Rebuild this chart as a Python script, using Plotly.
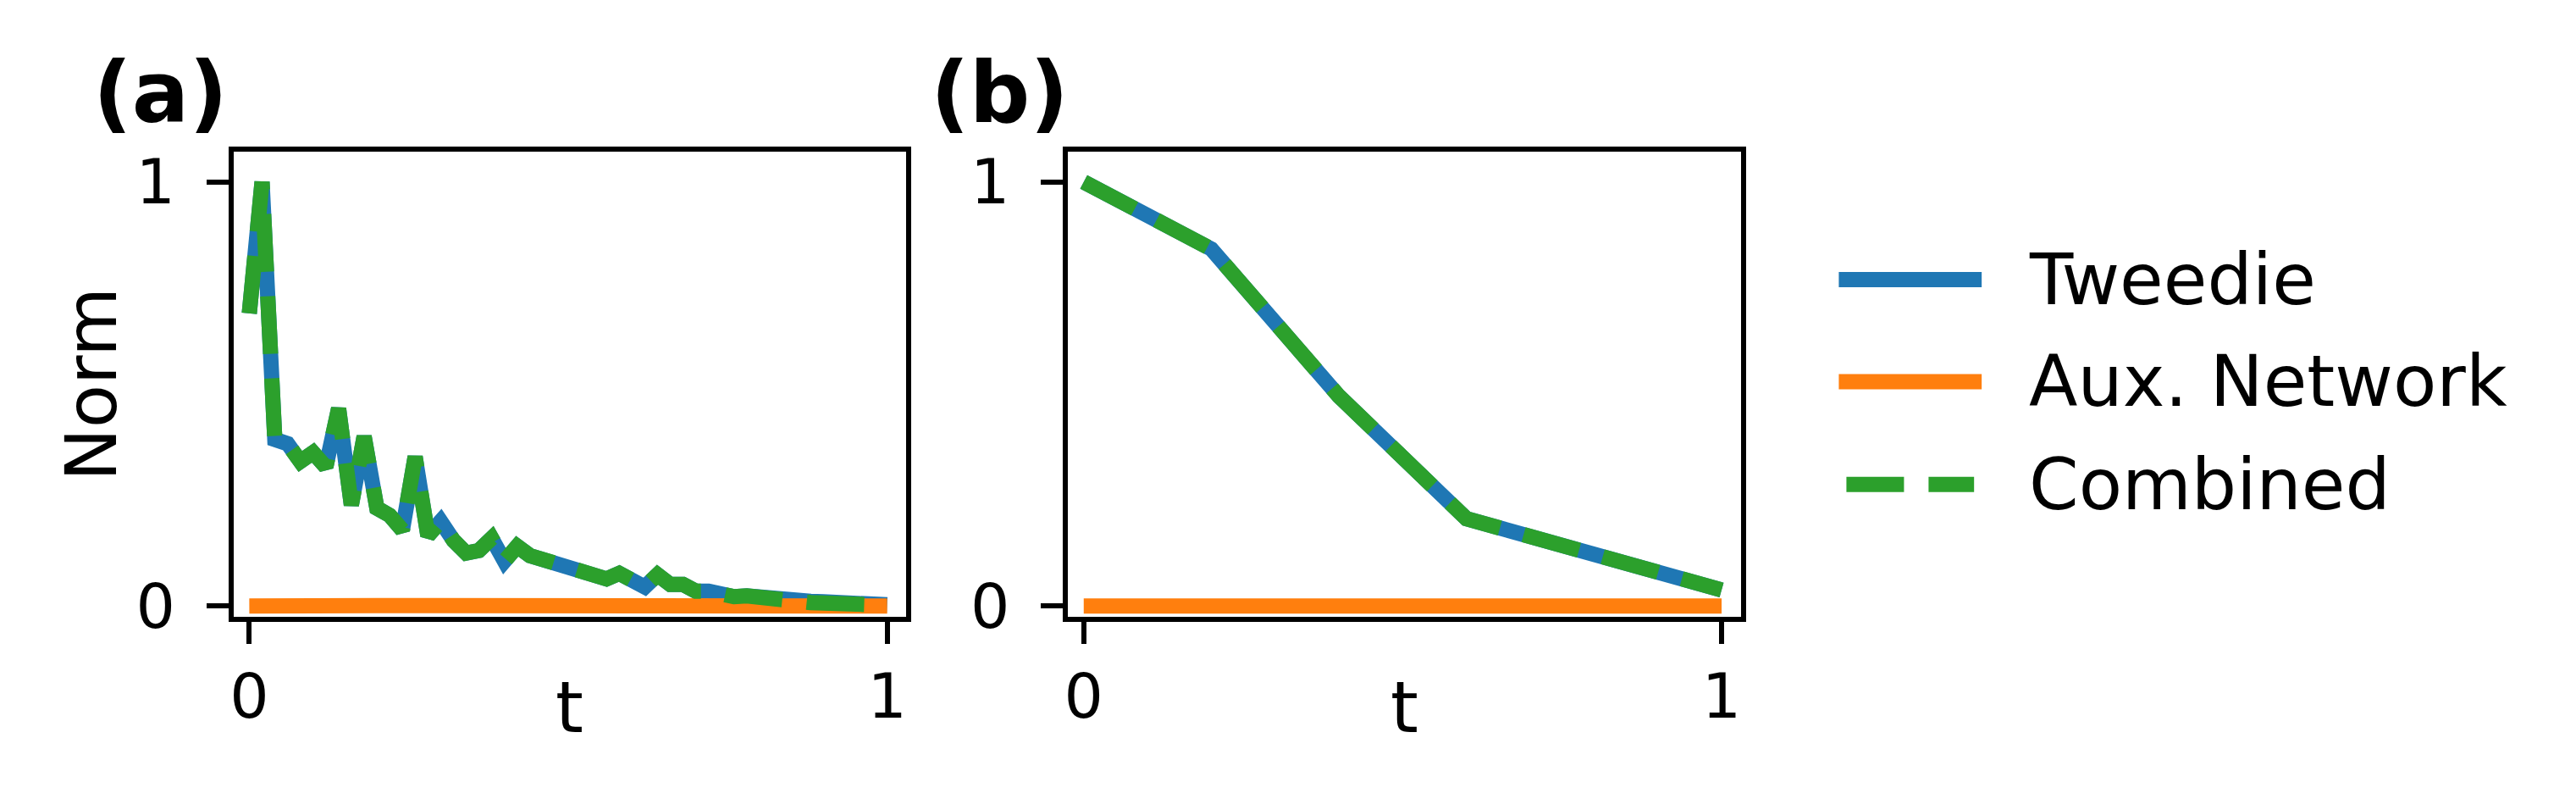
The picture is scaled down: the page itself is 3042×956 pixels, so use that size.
import plotly.graph_objects as go

# --- data ---
# panel (a): 51 steps
t_a = [0.00, 0.02, 0.04, 0.06, 0.08, 0.10, 0.12, 0.14, 0.16, 0.18,
       0.20, 0.22, 0.24, 0.26, 0.28, 0.30, 0.32, 0.34, 0.36, 0.38,
       0.40, 0.42, 0.44, 0.46, 0.48, 0.50, 0.52, 0.54, 0.56, 0.58,
       0.60, 0.62, 0.64, 0.66, 0.68, 0.70, 0.72, 0.74, 0.76, 0.78,
       0.80, 0.82, 0.84, 0.86, 0.88, 0.90, 0.92, 0.94, 0.96, 0.98, 1.00]
tweedie_a = [0.690, 1.000, 0.393, 0.383, 0.341, 0.362, 0.328, 0.466, 0.238, 0.400,
             0.231, 0.214, 0.179, 0.352, 0.166, 0.200, 0.155, 0.125, 0.131, 0.160,
             0.106, 0.141, 0.119, 0.109, 0.103, 0.093, 0.077, 0.067, 0.064, 0.077,
             0.058, 0.045, 0.074, 0.051, 0.051, 0.035, 0.035, 0.026, 0.022, 0.024,
             0.020, 0.016, 0.013, 0.012, 0.011, 0.010, 0.009, 0.008, 0.006, 0.004, 0.003]
aux_a = [0.000, 0.001, 0.001, 0.001, 0.001, 0.001, 0.001, 0.001, 0.001, 0.001,
         0.001, 0.001, 0.001, 0.001, 0.001, 0.001, 0.001, 0.001, 0.001, 0.001,
         0.001, 0.001, 0.001, 0.001, 0.001, 0.001, 0.001, 0.001, 0.001, 0.001,
         0.000, 0.000, 0.000, 0.000, 0.000, 0.000, 0.000, 0.000, 0.000, 0.000,
         0.000, 0.000, 0.000, 0.000, 0.000, 0.000, 0.000, 0.000, 0.000, 0.000, 0.000]
combined_a = [0.690, 1.000, 0.393, 0.383, 0.341, 0.362, 0.328, 0.466, 0.238, 0.400,
              0.231, 0.214, 0.179, 0.352, 0.166, 0.200, 0.155, 0.125, 0.131, 0.160,
              0.106, 0.141, 0.119, 0.109, 0.103, 0.093, 0.077, 0.067, 0.064, 0.077,
              0.058, 0.045, 0.074, 0.051, 0.051, 0.035, 0.035, 0.026, 0.022, 0.024,
              0.019, 0.015, 0.011, 0.009, 0.008, 0.007, 0.006, 0.005, 0.004, 0.003, 0.002]

# panel (b): 6 steps
t_b = [0.0, 0.2, 0.4, 0.6, 0.8, 1.0]
tweedie_b = [1.000, 0.842, 0.495, 0.206, 0.122, 0.038]
aux_b = [0.0, 0.0, 0.0, 0.0, 0.0, 0.0]
combined_b = [1.000, 0.842, 0.495, 0.206, 0.122, 0.038]

series_names = ["Tweedie", "Aux. Network", "Combined"]
colors = ["#1f77b4", "#ff7f0e", "#2ca02c"]
tick_vals = [0, 1]
tick_text = ["0", "1"]
panel_labels = ["(a)", "(b)"]

W, H = 3042, 956
FONT = "DejaVu Sans"
LW = 18
DASH = "68px,29px"


def fx(p):
    # pixel -> paper (x)
    return p / W


def fy(p):
    # pixel from top -> paper (y)
    return 1 - p / H


fig = go.Figure()

panels = [
    ("x", "y", t_a, [tweedie_a, aux_a, combined_a]),
    ("x2", "y2", t_b, [tweedie_b, aux_b, combined_b]),
]
for xa, ya, t, ys in panels:
    for i, vals in enumerate(ys):
        fig.add_trace(go.Scatter(
            x=t, y=vals, mode="lines", name=series_names[i],
            xaxis=xa, yaxis=ya, showlegend=False, hoverinfo="skip",
            line=dict(color=colors[i], width=LW, dash=DASH if i == 2 else "solid"),
        ))

axis_style = dict(
    showgrid=False, zeroline=False, showline=True, mirror=True,
    linecolor="black", linewidth=6,
    ticks="outside", ticklen=26, tickwidth=6, tickcolor="black",
    tickvals=tick_vals, ticktext=tick_text,
    tickfont=dict(family=FONT, size=73, color="black"),
)
x_style = dict(axis_style, ticklabelstandoff=0)
y_style = dict(axis_style, ticklabelstandoff=22)

y_dom = [fy(742), fy(172)]
fig.update_layout(
    width=W, height=H,
    margin=dict(l=0, r=0, t=0, b=0),
    paper_bgcolor="white", plot_bgcolor="white",
    showlegend=False,
    xaxis=dict(domain=[fx(264), fx(1060)], range=[-0.025, 1.03], anchor="y", **x_style),
    yaxis=dict(domain=y_dom, range=[-0.025, 1.072], anchor="x", **y_style),
    xaxis2=dict(domain=[fx(1251), fx(2047)], range=[-0.025, 1.03], anchor="y2", **x_style),
    yaxis2=dict(domain=y_dom, range=[-0.025, 1.072], anchor="x2", **y_style),
)

annotations = []
# panel labels
for lab, cx in zip(panel_labels, [178, 1170]):
    annotations.append(dict(text="<b>" + lab + "</b>", x=fx(cx), y=fy(100), xref="paper", yref="paper",
                            xanchor="center", yanchor="middle", showarrow=False,
                            font=dict(family=FONT, size=100, color="black")))
# axis titles
for cx in [662, 1649]:
    annotations.append(dict(text="t", x=fx(cx), y=fy(853), xref="paper", yref="paper",
                            xanchor="center", yanchor="middle", showarrow=False,
                            font=dict(family=FONT, size=84, color="black")))
annotations.append(dict(text="Norm", x=fx(96), y=fy(457), xref="paper", yref="paper",
                        xanchor="center", yanchor="middle", textangle=-90, showarrow=False,
                        font=dict(family=FONT, size=84, color="black")))

# legend, drawn by hand to get matplotlib-like long handles
shapes = []
rows = [329, 454, 580]
for i, name in enumerate(series_names):
    if i == 2:
        x0, x1, dash = 2172, 2323, DASH
    else:
        x0, x1, dash = 2163, 2332, "solid"
    shapes.append(dict(type="line", xref="paper", yref="paper",
                       x0=fx(x0), x1=fx(x1), y0=fy(rows[i]), y1=fy(rows[i]),
                       line=dict(color=colors[i], width=LW, dash=dash)))
    annotations.append(dict(text=name, x=fx(2386), y=fy(rows[i]), xref="paper", yref="paper",
                            xanchor="left", yanchor="middle", showarrow=False,
                            font=dict(family=FONT, size=84, color="black")))

fig.update_layout(annotations=annotations, shapes=shapes)

fig.write_html("out.html")
